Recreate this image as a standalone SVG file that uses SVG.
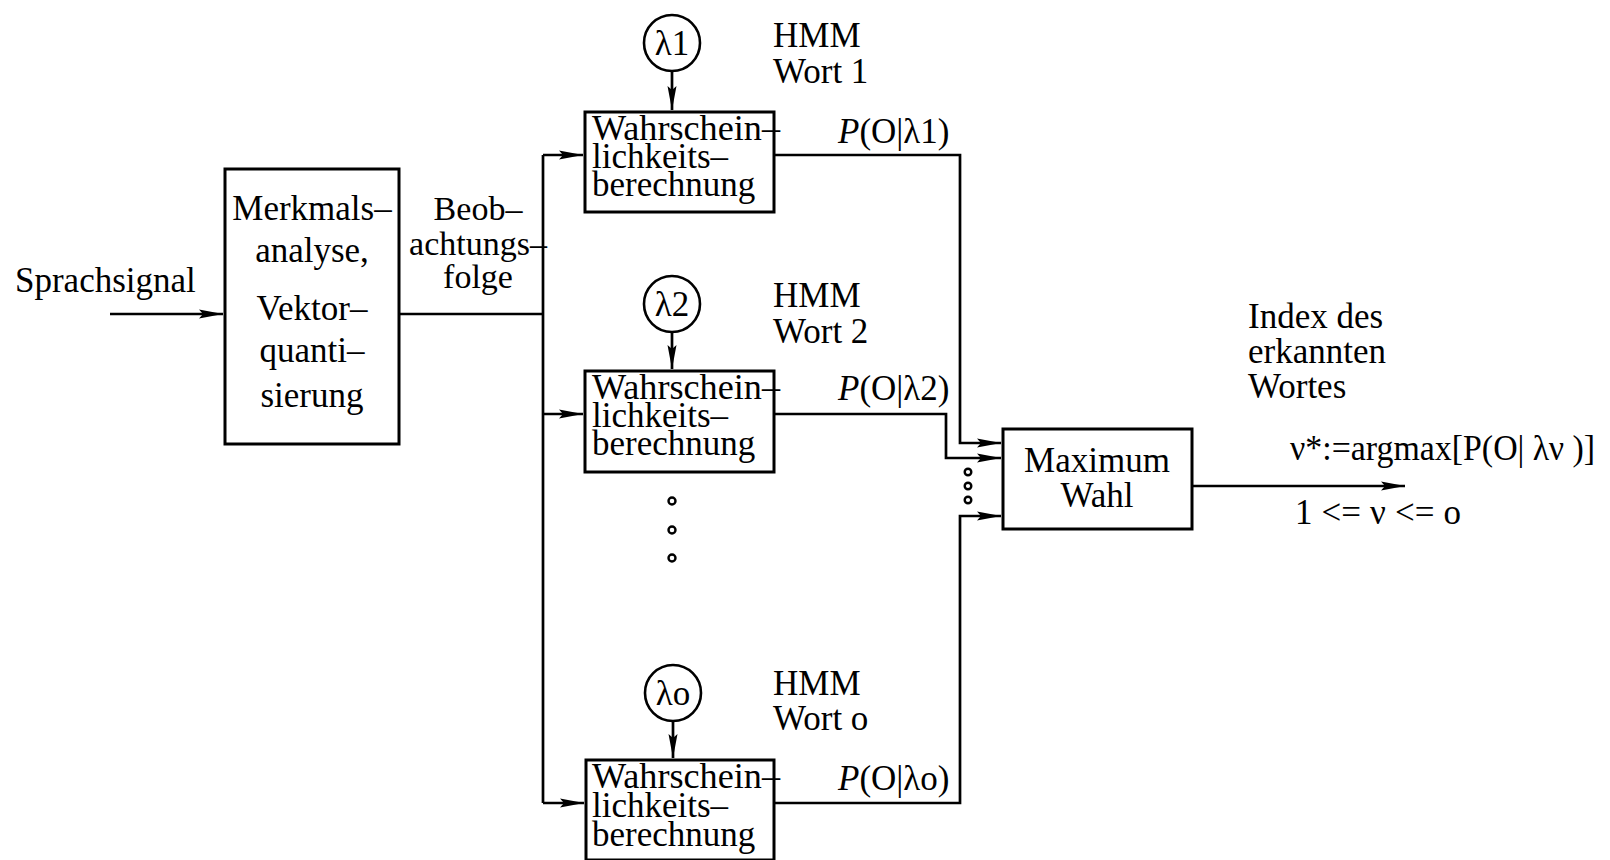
<svg xmlns="http://www.w3.org/2000/svg" width="1610" height="860" viewBox="0 0 1610 860">
<defs>
<style>
text{font-family:"Liberation Serif","Times New Roman",serif;font-size:35px;fill:#000}
.c{text-anchor:middle}
.box{fill:#fff;stroke:#000;stroke-width:3}
.circ{fill:#fff;stroke:#000;stroke-width:2.6}
.ln{fill:none;stroke:#000;stroke-width:2.7}
.dot{fill:#fff;stroke:#000;stroke-width:2.4}
</style>
<marker id="ah" markerUnits="userSpaceOnUse" markerWidth="26" markerHeight="12" refX="24" refY="6" orient="auto">
<path d="M0,1.5 L24,6 L0,10.5 L4,6 Z" fill="#000"/>
</marker>
</defs>
<rect width="1610" height="860" fill="#fff"/>

<g id="connectors">
<path class="ln" d="M110,314 H223" marker-end="url(#ah)"/>
<path class="ln" d="M399,314 H543"/>
<path class="ln" d="M543,155 V803"/>
<path class="ln" d="M543,155 H583" marker-end="url(#ah)"/>
<path class="ln" d="M543,414 H583" marker-end="url(#ah)"/>
<path class="ln" d="M543,803 H584" marker-end="url(#ah)"/>
<path class="ln" d="M672,71 V110" marker-end="url(#ah)"/>
<path class="ln" d="M672,332 V369" marker-end="url(#ah)"/>
<path class="ln" d="M673,721 V758" marker-end="url(#ah)"/>
<path class="ln" d="M774,155 H960 V443 H1001" marker-end="url(#ah)"/>
<path class="ln" d="M774,414 H946 V458 H1001" marker-end="url(#ah)"/>
<path class="ln" d="M774,803 H960 V516 H1001" marker-end="url(#ah)"/>
<path class="ln" d="M1192,486 H1405" marker-end="url(#ah)"/>
<circle class="dot" cx="968" cy="472" r="3.3"/>
<circle class="dot" cx="968" cy="486" r="3.3"/>
<circle class="dot" cx="968" cy="500" r="3.3"/>
<circle class="dot" cx="672" cy="501" r="3.5"/>
<circle class="dot" cx="672" cy="530" r="3.5"/>
<circle class="dot" cx="672" cy="558" r="3.5"/>
</g>

<g id="input-label">
<text x="15" y="292">Sprachsignal</text>
</g>

<g id="merkmal">
<rect class="box" x="225" y="169" width="174" height="275"/>
<text class="c" x="312" y="220">Merkmals–</text>
<text class="c" x="312" y="262">analyse,</text>
<text class="c" x="312" y="320">Vektor–</text>
<text class="c" x="312" y="362">quanti–</text>
<text class="c" x="312" y="407">sierung</text>
</g>

<g id="beob-label">
<text class="c" x="478" y="220" style="font-size:34px">Beob–</text>
<text class="c" x="478" y="255" style="font-size:34px">achtungs–</text>
<text class="c" x="478" y="288" style="font-size:34px">folge</text>
</g>

<g id="hmm1">
<circle class="circ" cx="672" cy="43" r="28"/>
<text class="c" x="672" y="55">λ1</text>
<text x="773" y="47">HMM</text>
<text x="773" y="83">Wort 1</text>
</g>
<g id="calc1">
<rect class="box" x="585" y="112" width="189" height="100"/>
<text x="592" y="140" textLength="188" lengthAdjust="spacingAndGlyphs">Wahrschein–</text>
<text x="592" y="168">lichkeits–</text>
<text x="592" y="196">berechnung</text>
<text x="838" y="143"><tspan font-style="italic">P</tspan>(O|λ1)</text>
</g>

<g id="hmm2">
<circle class="circ" cx="672" cy="304" r="28"/>
<text class="c" x="672" y="316">λ2</text>
<text x="773" y="307">HMM</text>
<text x="773" y="343">Wort 2</text>
</g>
<g id="calc2">
<rect class="box" x="585" y="371" width="189" height="101"/>
<text x="592" y="399" textLength="188" lengthAdjust="spacingAndGlyphs">Wahrschein–</text>
<text x="592" y="427">lichkeits–</text>
<text x="592" y="455">berechnung</text>
<text x="838" y="400"><tspan font-style="italic">P</tspan>(O|λ2)</text>
</g>

<g id="hmmo">
<circle class="circ" cx="673" cy="693" r="28"/>
<text class="c" x="673" y="705">λo</text>
<text x="773" y="695">HMM</text>
<text x="773" y="730">Wort o</text>
</g>
<g id="calco">
<rect class="box" x="586" y="760" width="188" height="100"/>
<text x="592" y="788" textLength="188" lengthAdjust="spacingAndGlyphs">Wahrschein–</text>
<text x="592" y="817">lichkeits–</text>
<text x="592" y="846">berechnung</text>
<text x="838" y="790"><tspan font-style="italic">P</tspan>(O|λo)</text>
</g>

<g id="maximum">
<rect class="box" x="1003" y="429" width="189" height="100"/>
<text class="c" x="1097" y="472">Maximum</text>
<text class="c" x="1097" y="507">Wahl</text>
</g>

<g id="output-label">
<text x="1248" y="328">Index des</text>
<text x="1248" y="363">erkannten</text>
<text x="1248" y="398">Wortes</text>
<text x="1290" y="460" textLength="305" lengthAdjust="spacingAndGlyphs">ν*:=argmax[P(O| λν )]</text>
<text x="1295" y="524" textLength="166" lengthAdjust="spacing">1 &lt;= ν &lt;= o</text>
</g>
</svg>
